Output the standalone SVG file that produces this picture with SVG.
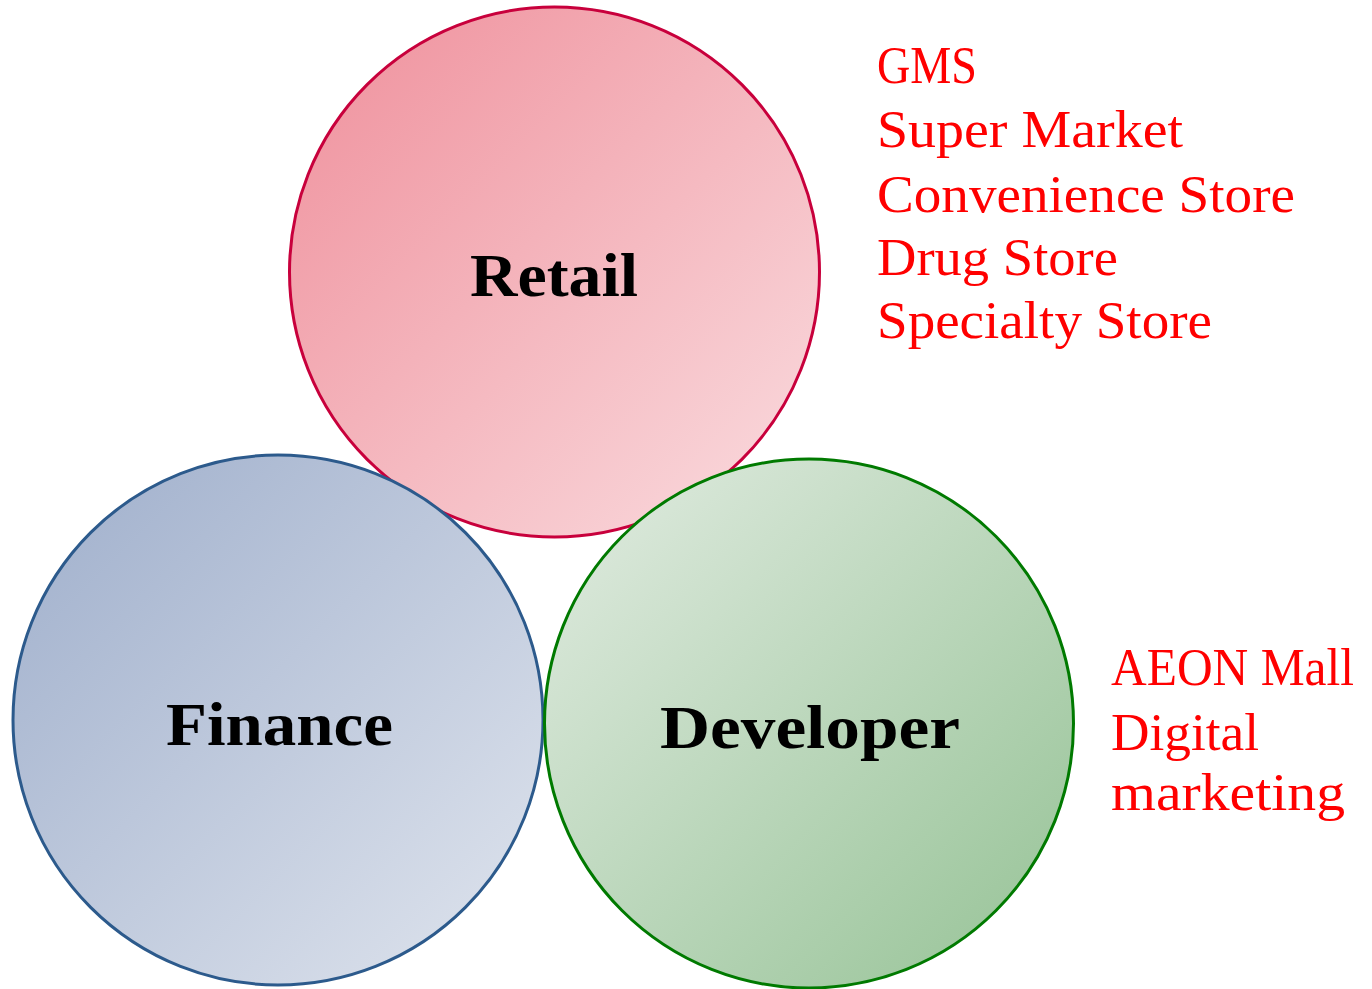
<svg xmlns="http://www.w3.org/2000/svg" width="1372" height="989" viewBox="0 0 1372 989">
<defs>
<linearGradient id="gR" x1="0" y1="0" x2="1" y2="1"><stop offset="0" stop-color="#EF8F9B"/><stop offset="1" stop-color="#FADDE0"/></linearGradient>
<linearGradient id="gF" x1="0" y1="0" x2="1" y2="1"><stop offset="0" stop-color="#9EAECB"/><stop offset="1" stop-color="#E0E5EE"/></linearGradient>
<linearGradient id="gD" x1="0" y1="0" x2="1" y2="1"><stop offset="0" stop-color="#E2ECE2"/><stop offset="1" stop-color="#95C295"/></linearGradient>
</defs>
<style>
.lbl{font-family:"Liberation Serif","DejaVu Serif",serif;font-weight:bold;font-size:62px;fill:#000;text-anchor:middle}
.lst{font-family:"Liberation Serif","DejaVu Serif",serif;font-size:53px;fill:#FF0000}
</style>
<g id="retail">
<circle cx="554.5" cy="272" r="265" fill="url(#gR)" stroke="#C8003C" stroke-width="3"/>
<text class="lbl" x="554" y="296" textLength="168" lengthAdjust="spacingAndGlyphs">Retail</text>
</g>
<g id="finance">
<circle cx="278" cy="720" r="265" fill="url(#gF)" stroke="#2C5A8C" stroke-width="3"/>
<text class="lbl" x="279.5" y="745" textLength="227" lengthAdjust="spacingAndGlyphs">Finance</text>
</g>
<g id="developer">
<circle cx="809" cy="723.5" r="264.5" fill="url(#gD)" stroke="#007A00" stroke-width="3"/>
<text class="lbl" x="810" y="748" textLength="300" lengthAdjust="spacingAndGlyphs">Developer</text>
</g>
<g id="retail-list">
<text class="lst" x="877" y="83" textLength="100" lengthAdjust="spacingAndGlyphs">GMS</text>
<text class="lst" x="877" y="147" textLength="306" lengthAdjust="spacingAndGlyphs">Super Market</text>
<text class="lst" x="877" y="212" textLength="418" lengthAdjust="spacingAndGlyphs">Convenience Store</text>
<text class="lst" x="877" y="275" textLength="241" lengthAdjust="spacingAndGlyphs">Drug Store</text>
<text class="lst" x="877" y="338" textLength="335" lengthAdjust="spacingAndGlyphs">Specialty Store</text>
</g>
<g id="developer-list">
<text class="lst" x="1111" y="685" textLength="243" lengthAdjust="spacingAndGlyphs">AEON Mall</text>
<text class="lst" x="1111" y="750" textLength="148" lengthAdjust="spacingAndGlyphs">Digital</text>
<text class="lst" x="1111" y="810" textLength="234" lengthAdjust="spacingAndGlyphs">marketing</text>
</g>
<g id="connectors"/>
</svg>
